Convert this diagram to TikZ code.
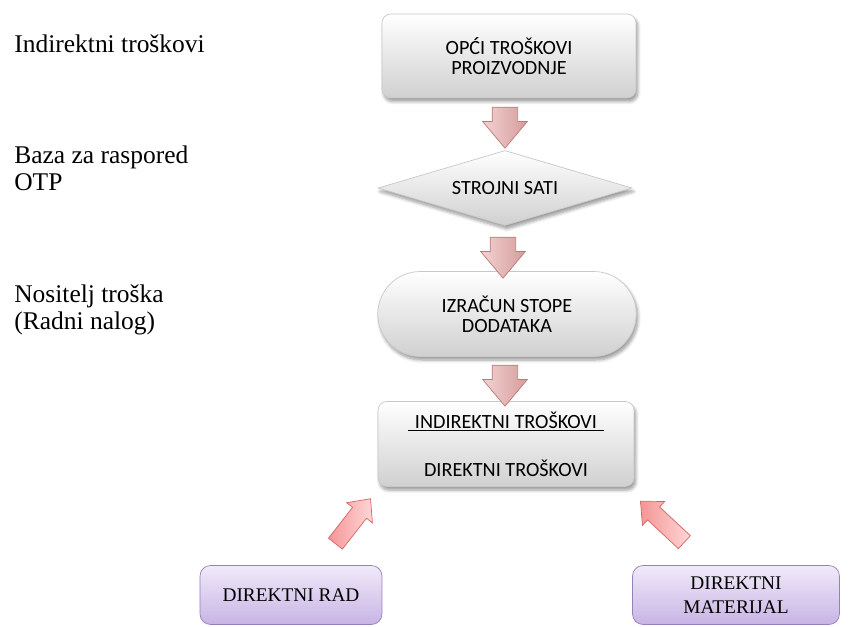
\documentclass[tikz,border=0pt]{standalone}
\usepackage{fontspec}
\setmainfont{Liberation Serif}
\newfontfamily\calibri{Carlito}
\usetikzlibrary{shapes.geometric,shapes.misc,shapes.arrows,shadows.blur}
\definecolor{boxline}{RGB}{200,200,200}
\definecolor{boxlow}{RGB}{208,208,208}
\definecolor{lilatop}{RGB}{240,234,250}
\definecolor{lilalow}{RGB}{200,180,228}
\definecolor{lilaline}{RGB}{150,128,186}
\definecolor{rosetop}{RGB}{242,210,210}
\definecolor{roselow}{RGB}{214,156,156}
\definecolor{roseline}{RGB}{184,122,122}
\definecolor{pinklight}{RGB}{255,214,214}
\definecolor{pinkdark}{RGB}{244,150,150}
\definecolor{pinkline}{RGB}{212,100,100}
\begin{document}
\begin{tikzpicture}[
    x=0.02cm, y=-0.02cm,
    greybox/.style={draw=boxline, top color=white, bottom color=boxlow,
      font=\calibri\fontsize{11.5}{11.5}\selectfont, align=center,
      blur shadow={shadow xshift=1pt, shadow yshift=-2pt, shadow blur steps=6}},
    lilabox/.style={draw=lilaline, rounded corners=6pt, top color=lilatop, bottom color=lilalow,
      font=\fontsize{11}{13.5}\selectfont, align=center},
    downarrow/.style={single arrow, rotate=-90, draw=roseline, left color=rosetop, right color=roselow,
      minimum height=0.72cm, minimum width=0.88cm, inner sep=0.25cm,
      single arrow head extend=0.19cm, single arrow tip angle=80},
    sidearrow/.style={single arrow, draw=pinkline, left color=pinkdark, right color=pinklight,
      minimum width=0.64cm, inner sep=0.17cm,
      single arrow head extend=0.15cm, single arrow tip angle=85},
    sidetext/.style={anchor=north west, align=left, inner sep=0pt,
      font=\fontsize{14.5}{15.5}\selectfont}
  ]
  \useasboundingbox (0,0) rectangle (856,626);

  % left column
  \node[sidetext] (indirect) at (14,34) {Indirektni troškovi};
  \node[sidetext] (base) at (14,145) {Baza za raspored\\OTP};
  \node[sidetext] (carrier) at (14,284) {Nositelj troška\\(Radni nalog)};

  % main column
  \node[greybox, rounded corners=5pt, minimum width=5.08cm, minimum height=1.68cm]
    (costs) at (509,56) {OPĆI TROŠKOVI\\PROIZVODNJE};
  \node[greybox, diamond, aspect=3, inner sep=0pt, minimum width=5.08cm, minimum height=1.5cm]
    (hours) at (505,188) {STROJNI SATI};
  \node[greybox, rounded rectangle, minimum width=5.16cm, minimum height=1.7cm, inner xsep=34pt]
    (rate) at (507,314) {IZRAČUN STOPE\\DODATAKA};
  \node[greybox, rounded corners=5pt, minimum width=5.12cm, minimum height=1.7cm]
    (order) at (506,444) {\underline{\hspace{4pt}INDIREKTNI TROŠKOVI\hspace{4pt}}\\[16pt]DIREKTNI TROŠKOVI};

  \node[downarrow] (down1) at (505,120) {};
  \node[downarrow] (down2) at (503,250) {};
  \node[downarrow] (down3) at (505,378) {};

  % direct costs
  \node[lilabox, minimum width=3.64cm, minimum height=1.18cm] (labour) at (291,595) {DIREKTNI RAD};
  \node[lilabox, minimum width=4.14cm, minimum height=1.18cm] (material) at (736,595) {DIREKTNI\\MATERIJAL};

  \node[sidearrow, rotate=52, minimum height=1.14cm] (upleft) at (350,525) {};
  \node[sidearrow, rotate=137, minimum height=1.2cm] (upright) at (666,525) {};
\end{tikzpicture}
\end{document}
